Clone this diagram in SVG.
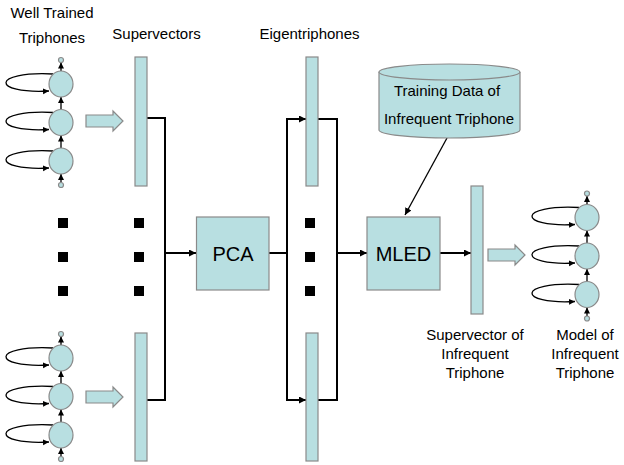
<svg xmlns="http://www.w3.org/2000/svg" width="624" height="465" viewBox="0 0 624 465">
<style>
.fill{fill:#b8dfe1;stroke:#8a8a8a;stroke-width:1.2}
.ln{fill:none;stroke:#000;stroke-width:1.3}
.cn{fill:none;stroke:#000;stroke-width:2}
.t{font-family:"Liberation Sans",Arial,sans-serif;font-size:15px;fill:#000;text-anchor:middle}
.big{font-family:"Liberation Sans",Arial,sans-serif;font-size:20px;fill:#000;text-anchor:middle}
.dot{fill:#000}
</style>
<defs>
<marker id="ah" markerUnits="userSpaceOnUse" markerWidth="8" markerHeight="8" refX="7" refY="3.5" orient="auto">
<path d="M0,0 L7,3.5 L0,7 Z" fill="#000"/>
</marker>
<marker id="as" markerUnits="userSpaceOnUse" markerWidth="8" markerHeight="8" refX="6" refY="3" orient="auto">
<path d="M0,0 L6,3 L0,6 Z" fill="#000"/>
</marker>
<g id="tri">
<path class="ln" d="M-8,-10 C-70,-13 -70,10 -12,7" marker-end="url(#as)"/>
<path class="ln" d="M-8,28.5 C-70,25.5 -70,48.5 -12,45.5" marker-end="url(#as)"/>
<path class="ln" d="M-8,67 C-70,64 -70,87 -12,84" marker-end="url(#as)"/>
<line class="ln" x1="0" y1="-13" x2="0" y2="-21.5" marker-end="url(#as)"/>
<line class="ln" x1="0" y1="25.5" x2="0" y2="13" marker-end="url(#as)"/>
<line class="ln" x1="0" y1="64" x2="0" y2="51.5" marker-end="url(#as)"/>
<line class="ln" x1="0" y1="98.5" x2="0" y2="90" marker-end="url(#as)"/>
<ellipse class="fill" cx="0" cy="0" rx="12" ry="13"/>
<ellipse class="fill" cx="0" cy="38.5" rx="12" ry="13"/>
<ellipse class="fill" cx="0" cy="77" rx="12" ry="13"/>
<circle class="fill" cx="0" cy="-24" r="2.5"/>
<circle class="fill" cx="0" cy="101" r="2.5"/>
</g>
<path id="barrow" class="fill" d="M0,-6 L27,-6 L27,-10 L37,0 L27,10 L27,6 L0,6 Z"/>
</defs>

<g id="labels">
<text class="t" x="52" y="17.5">Well Trained</text>
<text class="t" x="52" y="43">Triphones</text>
<text class="t" x="156.5" y="39">Supervectors</text>
<text class="t" x="309.5" y="39">Eigentriphones</text>
<text class="t" x="475" y="340">Supervector of</text>
<text class="t" x="475" y="359">Infrequent</text>
<text class="t" x="475" y="378">Triphone</text>
<text class="t" x="585" y="340">Model of</text>
<text class="t" x="585" y="359">Infrequent</text>
<text class="t" x="585" y="378">Triphone</text>
</g>

<g id="connectors">
<polyline class="cn" points="147,118 165,118 165,400 147,400"/>
<line class="cn" x1="165" y1="253" x2="196" y2="253" marker-end="url(#ah)"/>
<line class="cn" x1="269" y1="253" x2="287" y2="253"/>
<polyline class="cn" points="306,119 287,119 287,400 306,400"/>
<line class="cn" x1="287" y1="119" x2="306" y2="119" marker-end="url(#ah)"/>
<line class="cn" x1="287" y1="400" x2="306" y2="400" marker-end="url(#ah)"/>
<polyline class="cn" points="318,119 337,119 337,400 318,400"/>
<line class="cn" x1="337" y1="253" x2="367" y2="253" marker-end="url(#ah)"/>
<line class="cn" x1="440" y1="253" x2="471" y2="253" marker-end="url(#ah)"/>
<line class="ln" x1="447" y1="138" x2="405" y2="215" marker-end="url(#ah)"/>
<use href="#barrow" x="86" y="121"/>
<use href="#barrow" x="86" y="397"/>
<use href="#barrow" x="488" y="255"/>
</g>

<g id="triphones-top"><use href="#tri" x="61" y="84"/></g>
<g id="triphones-bottom"><use href="#tri" x="61" y="358"/></g>
<g id="model-infrequent"><use href="#tri" x="587" y="217.5"/></g>

<g id="supervector-top"><rect class="fill" x="135" y="57" width="12" height="129"/></g>
<g id="supervector-bottom"><rect class="fill" x="135" y="333" width="12" height="128"/></g>
<g id="eigen-top"><rect class="fill" x="306" y="57" width="12" height="129"/></g>
<g id="eigen-bottom"><rect class="fill" x="306" y="333" width="12" height="128"/></g>
<g id="supervector-infrequent"><rect class="fill" x="471" y="186" width="12" height="128"/></g>

<g id="dots">
<rect class="dot" x="58" y="218" width="10" height="10"/>
<rect class="dot" x="58" y="252" width="10" height="10"/>
<rect class="dot" x="58" y="286" width="10" height="10"/>
<rect class="dot" x="134" y="218" width="10" height="10"/>
<rect class="dot" x="134" y="252" width="10" height="10"/>
<rect class="dot" x="134" y="286" width="10" height="10"/>
<rect class="dot" x="305" y="218" width="10" height="10"/>
<rect class="dot" x="305" y="252" width="10" height="10"/>
<rect class="dot" x="305" y="286" width="10" height="10"/>
</g>

<g id="pca">
<rect class="fill" x="196.5" y="217" width="72.5" height="73"/>
<text class="big" x="233" y="261">PCA</text>
</g>
<g id="mled">
<rect class="fill" x="367" y="217" width="73" height="73"/>
<text class="big" x="403.5" y="261">MLED</text>
</g>
<g id="training-data">
<path class="fill" d="M379,72 L379,130 A70.5,8 0 0 0 520,130 L520,72"/>
<ellipse class="fill" cx="449.5" cy="72" rx="70.5" ry="8"/>
<text class="t" x="447" y="96">Training Data of</text>
<text class="t" x="449" y="124">Infrequent Triphone</text>
</g>
</svg>
